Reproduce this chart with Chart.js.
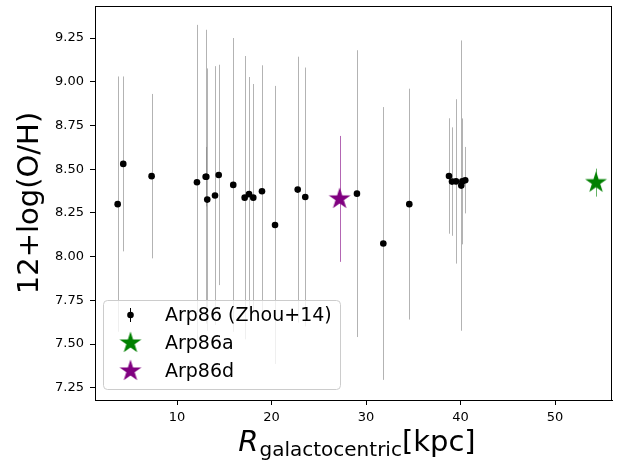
<!DOCTYPE html>
<html>
<head>
<meta charset="utf-8">
<script src="https://cdn.jsdelivr.net/npm/chart.js@4.4.0/dist/chart.umd.min.js"></script>
<style>
  body { margin: 0; background: #fff; }
  #wrap { width: 633px; height: 462px; }
</style>
</head>
<body>
<div id="wrap"><canvas id="chart" width="633" height="462"></canvas></div>
<script>
// values
const zhouR   = [3.72, 4.31, 7.31, 12.11, 13.03, 13.1, 13.2, 14.02, 14.41, 15.95, 17.16, 17.62, 18.07, 18.99,
                 20.37, 22.77, 23.57, 29.04, 31.83, 34.58, 38.78, 39.1, 39.52, 40.08, 40.19, 40.5];
const zhouOH  = [8.30, 8.53, 8.46, 8.425, 8.457, 8.457, 8.326, 8.349, 8.467, 8.41, 8.337, 8.357, 8.337, 8.374,
                 8.181, 8.383, 8.341, 8.36, 8.075, 8.30, 8.461, 8.429, 8.43, 8.406, 8.43, 8.437];
const zhouErr = [0.73, 0.50, 0.47, 0.90, 0.84, 0.17, 0.75, 0.74, 0.63, 0.84, 0.81, 0.67, 0.65, 0.72,
                 0.795, 0.76, 0.74, 0.82, 0.78, 0.66, 0.33, 0.31, 0.47, 0.83, 0.36, 0.19];
const arp86aR = [54.34], arp86aOH = [8.423], arp86aErr = [0.08];
const arp86dR = [27.21], arp86dOH = [8.33], arp86dErr = [0.36];

const xTicks = [10, 20, 30, 40, 50];
const yTicks = [7.25, 7.5, 7.75, 8, 8.25, 8.5, 8.75, 9, 9.25];
const seriesNames = ['Arp86 (Zhou+14)', 'Arp86a', 'Arp86d'];

const toPoints = (xs, ys) => xs.map((v, i) => ({ x: v, y: ys[i] }));

// filled five point star like matplotlib's '*' marker
function makeStar(color) {
  const c = document.createElement('canvas');
  c.width = 26; c.height = 26;
  const g = c.getContext('2d');
  const R = 11.5, r = R * 0.382;
  g.beginPath();
  for (let i = 0; i < 10; i++) {
    const rad = i % 2 ? r : R;
    const a = -Math.PI / 2 + i * Math.PI / 5;
    const px = 13 + rad * Math.cos(a), py = 13 + rad * Math.sin(a);
    if (i) g.lineTo(px, py); else g.moveTo(px, py);
  }
  g.closePath();
  g.fillStyle = color;
  g.fill();
  return c;
}
const greenStar = makeStar('#008000');
const purpleStar = makeStar('#800080');

// vertical error bars, under the markers
const errorBars = {
  id: 'errorBars',
  beforeDatasetsDraw(chart) {
    const { ctx, scales: { x, y } } = chart;
    ctx.save();
    ctx.lineWidth = 1;
    chart.data.datasets.forEach(ds => {
      ctx.strokeStyle = ds.errColor;
      ds.data.forEach((p, i) => {
        const px = Math.round(x.getPixelForValue(p.x)) + 0.5;
        ctx.beginPath();
        ctx.moveTo(px, y.getPixelForValue(p.y - ds.err[i]));
        ctx.lineTo(px, y.getPixelForValue(p.y + ds.err[i]));
        ctx.stroke();
      });
    });
    ctx.restore();
  }
};

// frame, axis titles and the legend box inside the plot
const decorations = {
  id: 'decorations',
  afterDraw(chart) {
    const { ctx, chartArea: a } = chart;
    ctx.save();
    ctx.strokeStyle = '#000';
    ctx.lineWidth = 1;
    ctx.strokeRect(a.left + 0.5, a.top + 0.5, a.right - a.left - 1, a.bottom - a.top);

    ctx.fillStyle = '#000';
    ctx.textBaseline = 'alphabetic';
    // x title: R_galactocentric[kpc]
    const big = '29px "DejaVu Sans"';
    const bigIt = 'italic 29px "DejaVu Sans"';
    const sub = '20px "DejaVu Sans"';
    ctx.font = bigIt; const wR = ctx.measureText('R').width;
    ctx.font = sub; const wS = ctx.measureText('galactocentric').width;
    ctx.font = big; const wK = ctx.measureText('[kpc]').width;
    let tx = (a.left + a.right) / 2 + 3 - (wR + wS + wK) / 2;
    const base = 451;
    ctx.font = bigIt; ctx.fillText('R', tx, base); tx += wR + 1;
    ctx.font = sub; ctx.fillText('galactocentric', tx, base + 5); tx += wS;
    ctx.font = big; ctx.fillText('[kpc]', tx, base);

    // y title
    ctx.save();
    ctx.translate(30, (a.top + a.bottom) / 2);
    ctx.rotate(-Math.PI / 2);
    ctx.font = big;
    ctx.textAlign = 'center';
    ctx.textBaseline = 'middle';
    ctx.fillText('12+log(O/H)', 0, 0);
    ctx.restore();

    // legend
    const lx = 103.5, ly = 300.5, lw = 237, lh = 89;
    ctx.beginPath();
    ctx.roundRect(lx, ly, lw, lh, 4);
    ctx.fillStyle = 'rgba(255,255,255,0.8)';
    ctx.fill();
    ctx.strokeStyle = '#cccccc';
    ctx.stroke();
    const rows = [315, 343, 371];
    const mx = 130.5;
    ctx.strokeStyle = '#000';
    ctx.beginPath();
    ctx.moveTo(mx, rows[0] - 7); ctx.lineTo(mx, rows[0] + 7);
    ctx.stroke();
    ctx.fillStyle = '#000';
    ctx.beginPath();
    ctx.arc(mx, rows[0], 3.3, 0, Math.PI * 2);
    ctx.fill();
    ctx.drawImage(greenStar, mx - 13, rows[1] - 13);
    ctx.drawImage(purpleStar, mx - 13, rows[2] - 13);
    ctx.font = '19px "DejaVu Sans"';
    ctx.textBaseline = 'middle';
    ctx.fillStyle = '#000';
    seriesNames.forEach((t, i) => ctx.fillText(t, 165, rows[i] + 1));
    ctx.restore();
  }
};

new Chart(document.getElementById('chart'), {
  type: 'scatter',
  data: {
    datasets: [
      {
        label: seriesNames[0],
        data: toPoints(zhouR, zhouOH),
        err: zhouErr,
        errColor: 'rgba(128,128,128,0.6)',
        pointStyle: 'circle',
        pointRadius: 3.3,
        backgroundColor: '#000',
        borderWidth: 0
      },
      {
        label: seriesNames[1],
        data: toPoints(arp86aR, arp86aOH),
        err: arp86aErr,
        errColor: 'rgba(0,128,0,0.6)',
        pointStyle: greenStar
      },
      {
        label: seriesNames[2],
        data: toPoints(arp86dR, arp86dOH),
        err: arp86dErr,
        errColor: 'rgba(128,0,128,0.6)',
        pointStyle: purpleStar
      }
    ]
  },
  options: {
    responsive: false,
    animation: false,
    devicePixelRatio: 1,
    events: [],
    layout: { padding: { top: 6, right: 21, left: 0, bottom: 0 } },
    plugins: { legend: { display: false }, tooltip: { enabled: false } },
    font: { family: '"DejaVu Sans"' },
    scales: {
      x: {
        type: 'linear',
        min: 1.32,
        max: 56.03,
        afterBuildTicks: s => { s.ticks = xTicks.map(v => ({ value: v })); },
        afterFit: s => { s.height = 62; s.paddingLeft = 0; s.paddingRight = 0; },
        grid: { drawOnChartArea: false, tickLength: 5, color: '#000' },
        border: { color: '#000' },
        ticks: {
          autoSkip: false, maxRotation: 0, padding: 5, color: '#000',
          font: { family: '"DejaVu Sans"', size: 13 },
          callback: v => String(v)
        }
      },
      y: {
        type: 'linear',
        min: 7.18,
        max: 9.433,
        afterBuildTicks: s => { s.ticks = yTicks.map(v => ({ value: v })); },
        afterFit: s => { s.width = 95; s.paddingTop = 0; s.paddingBottom = 0; },
        grid: { drawOnChartArea: false, tickLength: 5, color: '#000' },
        border: { color: '#000' },
        ticks: {
          autoSkip: false, padding: 6, color: '#000',
          font: { family: '"DejaVu Sans"', size: 13 },
          callback: v => Number(v).toFixed(2)
        }
      }
    }
  },
  plugins: [errorBars, decorations]
});
</script>
</body>
</html>
